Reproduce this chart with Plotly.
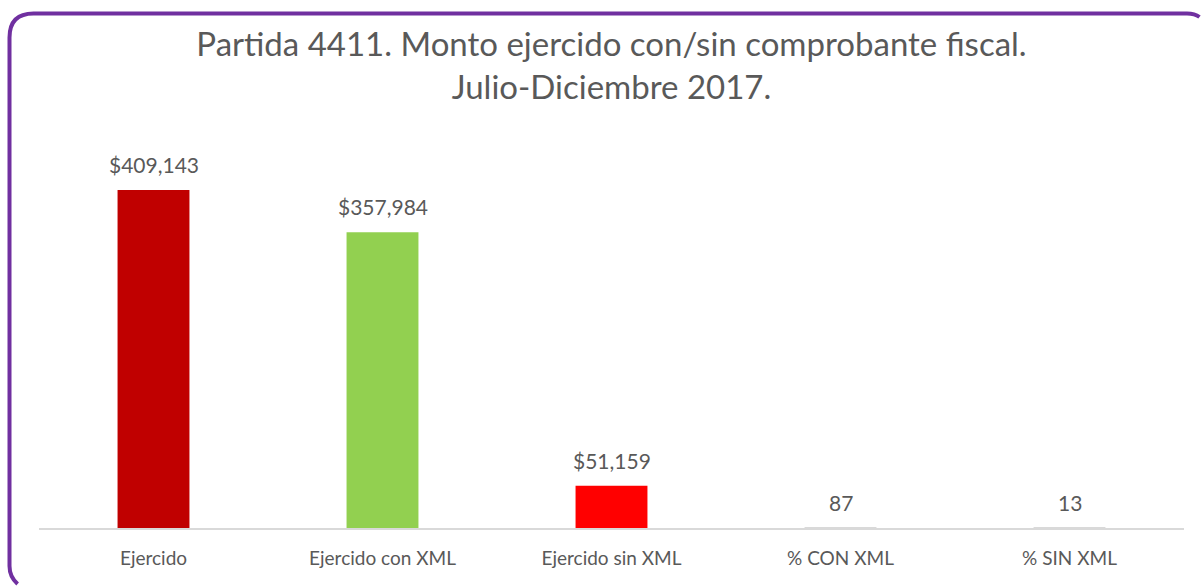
import plotly.graph_objects as go

categories = ["Ejercido", "Ejercido con XML", "Ejercido sin XML", "% CON XML", "% SIN XML"]
values = [409143, 357984, 51159, 87, 13]
label_formats = ["${:,.0f}", "${:,.0f}", "${:,.0f}", "{:.0f}", "{:.0f}"]
bar_colors = ["#C00000", "#92D050", "#FF0000", "#D9D9D9", "#D9D9D9"]

W, H = 1202, 586
L, R, T, B = 39, 18, 150, 58
PW, PH = W - L - R, H - T - B

FONT = "Lato"
TXT = "#595959"

fig = go.Figure()
fig.add_trace(go.Bar(
    x=categories, y=values, marker=dict(color=bar_colors, line=dict(width=0)),
    hoverinfo="skip", showlegend=False,
))

for c, v, f in zip(categories, values, label_formats):
    fig.add_annotation(x=c, y=v, xref="x", yref="y", text=f.format(v),
                       showarrow=False, yanchor="bottom", yshift=11,
                       font=dict(family=FONT, size=21, color=TXT))

def px(x):
    return (x - L) / PW

def py(y):
    return (H - B - y) / PH

# frame (kept inside the page so nothing overflows)
path = (f"M {px(17.6)},{py(584)} "
        f"Q {px(9.5)},{py(576.8)} {px(9.5)},{py(566)} "
        f"L {px(9.5)},{py(37.5)} "
        f"Q {px(9.5)},{py(13.5)} {px(33.5)},{py(13.5)} "
        f"L {px(1187)},{py(13.5)} "
        f"Q {px(1194.7)},{py(13.5)} {px(1199.5)},{py(17)}")
fig.add_shape(type="path", path=path, xref="paper", yref="paper",
              fillcolor="rgba(0,0,0,0)",
              line=dict(color="#7030A0", width=4), layer="above")

ymax = values[0] * PH / 338

fig.update_layout(
    width=W, height=H,
    margin=dict(l=L, r=R, t=T, b=B, pad=0),
    paper_bgcolor="white", plot_bgcolor="white",
    bargap=0.686,
    title=dict(text="Partida 4411. Monto ejercido con/sin comprobante fiscal.<br>Julio-Diciembre 2017.",
               x=0.5, xref="paper", xanchor="center",
               y=1 - 56 / H, yref="container", yanchor="top",
               font=dict(family=FONT, size=33, color=TXT)),
    font=dict(family=FONT, color=TXT),
    xaxis=dict(showline=True, linecolor="#D9D9D9", linewidth=1.5, ticks="",
               tickfont=dict(family=FONT, size=19, color=TXT),
               ticklabelstandoff=12, showgrid=False, zeroline=False),
    yaxis=dict(visible=False, range=[0, ymax], showgrid=False, zeroline=False),
)

fig.write_html("out.html", config={"displayModeBar": False},
               post_script="document.body.style.margin='0';")
